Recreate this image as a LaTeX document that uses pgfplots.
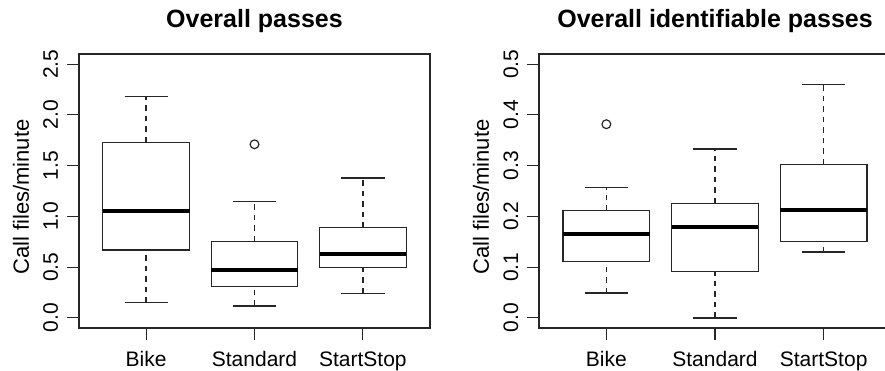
\documentclass[border=0pt]{standalone}
\usepackage{pgfplots}
\pgfplotsset{compat=1.18}
\usepgfplotslibrary{statistics}
\usepackage{fontspec}
\setmainfont{Liberation Sans}
\pgfplotsset{
  rbox/.style={
    scale only axis, width=351pt, height=274pt, anchor=south west,
    xmin=0.38, xmax=3.62,
    xtick={1,2,3}, xticklabels={Bike,Standard,StartStop},
    tick align=outside, tick pos=left, major tick length=12pt,
    tick style={line width=1.2pt, black!85},
    axis line style={line width=1.2pt, black!85},
    ticklabel style={font=\fontsize{21}{21}\selectfont},
    xticklabel style={anchor=base, inner sep=0pt},
    yticklabel style={rotate=90, anchor=base, inner sep=0pt},
    xticklabel shift=26.5pt,
    yticklabel shift=9pt,
    ylabel={Call files/minute},
    ylabel style={at={(axis description cs:-0.165,0.478)}, anchor=center, font=\fontsize{22}{22}\selectfont},
    title style={at={(axis description cs:0.5,1)}, anchor=base, yshift=21pt, font=\fontsize{25}{25}\selectfont\bfseries},
    boxplot/draw direction=y,
    boxplot/box extend=0.8,
    boxplot/whisker extend=0.4,
    boxplot/every median/.style={line width=3.8pt, black},
    boxplot/draw/lower whisker/.code={%
      \draw[dash pattern=on 5.5pt off 5pt, line width=1.4pt]
        (boxplot cs:\pgfplotsboxplotvalue{lower whisker}) --
        (boxplot cs:\pgfplotsboxplotvalue{lower quartile});
      \draw (boxplot whisker cs:\pgfplotsboxplotvalue{lower whisker},0) --
        (boxplot whisker cs:\pgfplotsboxplotvalue{lower whisker},1);
    },
    boxplot/draw/upper whisker/.code={%
      \draw[dash pattern=on 5.5pt off 5pt, line width=1.4pt]
        (boxplot cs:\pgfplotsboxplotvalue{upper quartile}) --
        (boxplot cs:\pgfplotsboxplotvalue{upper whisker});
      \draw (boxplot whisker cs:\pgfplotsboxplotvalue{upper whisker},0) --
        (boxplot whisker cs:\pgfplotsboxplotvalue{upper whisker},1);
    },
  },
  rplot/.style={black!85, line width=1.3pt, mark=o, mark size=4.4pt, mark options={line width=1.2pt, solid}},
}
\begin{document}
\begin{tikzpicture}
\path[use as bounding box] (0,0) rectangle (885pt,370pt);
\clip (0,0) rectangle (885pt,370pt);
\begin{axis}[rbox, at={(79pt,42pt)}, ymin=-0.1, ymax=2.6,
  ytick={0,0.5,1,1.5,2,2.5}, yticklabels={0.0,0.5,1.0,1.5,2.0,2.5},
  title={Overall passes}]
\addplot[rplot, boxplot prepared={draw position=1, lower whisker=0.148, lower quartile=0.668, median=1.056, upper quartile=1.73, upper whisker=2.18}] coordinates {};
\addplot[rplot, boxplot prepared={draw position=2, lower whisker=0.118, lower quartile=0.31, median=0.47, upper quartile=0.753, upper whisker=1.15}] coordinates {(0,1.71)};
\addplot[rplot, boxplot prepared={draw position=3, lower whisker=0.243, lower quartile=0.497, median=0.632, upper quartile=0.888, upper whisker=1.378}] coordinates {};
\end{axis}
\begin{axis}[rbox, at={(539pt,42pt)}, width=352pt, ymin=-0.02, ymax=0.52,
  ytick={0,0.1,0.2,0.3,0.4,0.5}, yticklabels={0.0,0.1,0.2,0.3,0.4,0.5},
  title={Overall identifiable passes}]
\addplot[rplot, boxplot prepared={draw position=1, lower whisker=0.0487, lower quartile=0.1105, median=0.165, upper quartile=0.211, upper whisker=0.257}] coordinates {(0,0.3816)};
\addplot[rplot, boxplot prepared={draw position=2, lower whisker=0.0, lower quartile=0.0914, median=0.179, upper quartile=0.226, upper whisker=0.333}] coordinates {};
\addplot[rplot, boxplot prepared={draw position=3, lower whisker=0.1296, lower quartile=0.1507, median=0.213, upper quartile=0.3026, upper whisker=0.4605}] coordinates {};
\end{axis}
\end{tikzpicture}
\end{document}
